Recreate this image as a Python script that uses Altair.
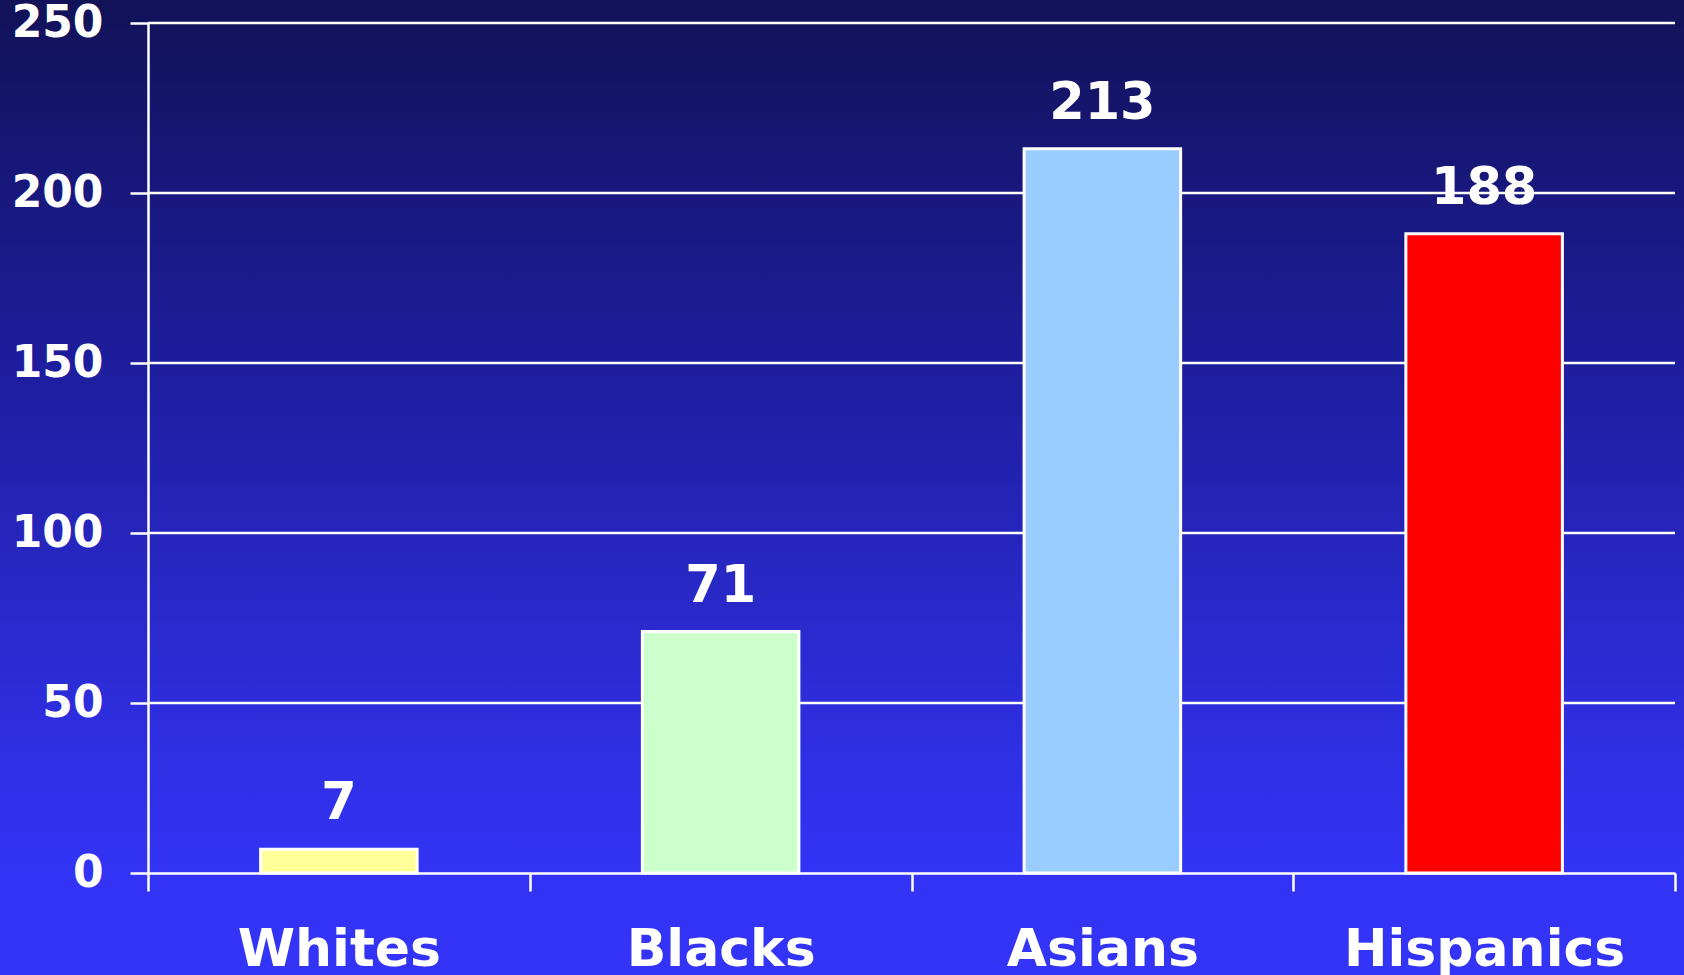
import altair as alt
import pandas as pd

categories = ["Whites", "Blacks", "Asians", "Hispanics"]
values = [7, 71, 213, 188]
bar_colors = ["#FFFF99", "#CCFFCC", "#99CCFF", "#FF0000"]
y_ticks = [0, 50, 100, 150, 200, 250]
grid_values = [50, 100, 150, 200, 250]

W, H = 1527, 850
PAD_L, PAD_T, PAD_R, PAD_B = 148, 23, 9, 102
FONT = "DejaVu Sans"

df = pd.DataFrame({"group": categories, "value": values, "color": bar_colors})
grid_df = pd.DataFrame({"value": grid_values})
bg_df = pd.DataFrame({"k": [0]})

gradient = alt.Gradient(
    gradient="linear",
    x1=0, x2=0, y1=0, y2=1,
    stops=[
        alt.GradientStop(offset=0.0, color="#121258"),
        alt.GradientStop(offset=0.2, color="#18187e"),
        alt.GradientStop(offset=0.4, color="#1e1ea2"),
        alt.GradientStop(offset=0.6, color="#2828c6"),
        alt.GradientStop(offset=0.8, color="#3030e8"),
        alt.GradientStop(offset=0.9, color="#3333f5"),
        alt.GradientStop(offset=1.0, color="#3434f8"),
    ],
)

bg = alt.Chart(bg_df).mark_rect(color=gradient).encode(
    x=alt.value(-PAD_L), x2=alt.value(W + PAD_R),
    y=alt.value(-PAD_T), y2=alt.value(H + PAD_B),
)

yscale = alt.Scale(domain=[0, 250], nice=False, zero=True)

grid = alt.Chart(grid_df).mark_rule(color="white", strokeWidth=2.5).encode(
    y=alt.Y("value:Q", scale=yscale),
    x=alt.value(0), x2=alt.value(W),
)

xenc = alt.X(
    "group:N",
    sort=categories,
    scale=alt.Scale(paddingInner=0, paddingOuter=0),
    axis=alt.Axis(
        title="", labelAngle=0, labelFont=FONT, labelFontWeight="bold",
        labelFontSize=52, labelColor="white", labelBaseline="alphabetic",
        labelPadding=74, labelLimit=0, tickBand="extent", tickColor="white",
        tickWidth=2.5, tickSize=18, domainColor="white", domainWidth=2.5,
        grid=False, zindex=1,
    ),
)

yenc = alt.Y(
    "value:Q",
    scale=yscale,
    axis=alt.Axis(
        title="", values=y_ticks, labelFont=FONT, labelFontWeight="bold",
        labelFontSize=44, labelColor="white", labelPadding=27,
        tickColor="white", tickWidth=2.5, tickSize=18,
        domainColor="white", domainWidth=2.5, grid=False, zindex=1,
    ),
)

bars = alt.Chart(df).mark_bar(
    width=alt.RelativeBandSize(0.41), stroke="white", strokeWidth=3
).encode(
    x=xenc, y=yenc,
    color=alt.Color("color:N", scale=None),
)

labels = alt.Chart(df).mark_text(
    font=FONT, fontWeight="bold", fontSize=51, color="white",
    baseline="alphabetic", dy=-30,
).encode(
    x=alt.X("group:N", sort=categories),
    y=alt.Y("value:Q"),
    text=alt.Text("value:Q"),
)

chart = alt.layer(bg, grid, bars, labels).properties(
    width=W, height=H,
    autosize=alt.AutoSizeParams(type="none"),
    padding={"left": PAD_L, "top": PAD_T, "right": PAD_R, "bottom": PAD_B},
    background="#3333f5",
).configure_view(stroke="transparent")

chart.save("out.html", embed_options={"renderer": "svg", "actions": False})
